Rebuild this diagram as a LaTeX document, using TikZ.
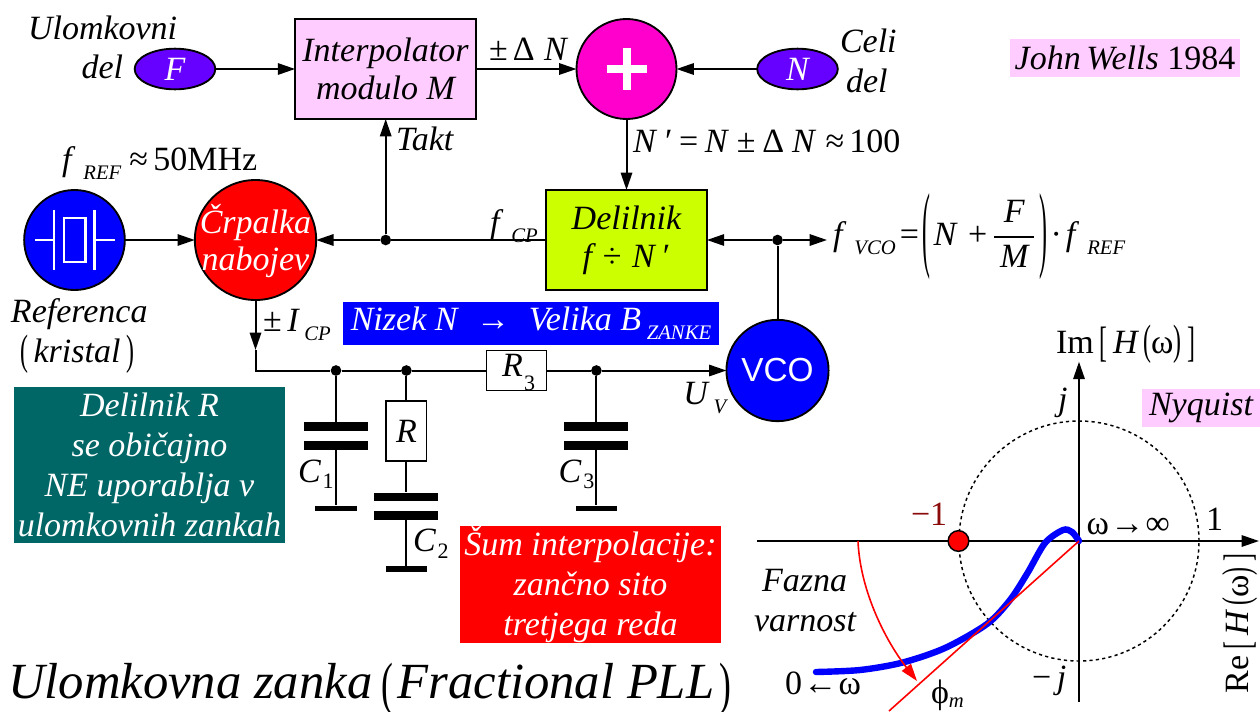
\documentclass[tikz,border=0pt]{standalone}
\usepackage{amsmath}
\usepackage{fontspec}
\usepackage{xcolor}
\usepackage{tikz}
\usetikzlibrary{calc, arrows.meta, positioning, shapes.geometric}
\setmainfont{Liberation Serif}
\newfontfamily\vcofont{Liberation Sans}
\definecolor{pinkbg}{HTML}{FFCCFF}
\definecolor{violetin}{HTML}{6600FF}
\definecolor{sumcol}{HTML}{FF00CC}
\definecolor{divcol}{HTML}{CCFF00}
\definecolor{tealbg}{HTML}{006666}
\definecolor{minusred}{HTML}{8B0A0A}
\newcommand{\sbt}[1]{\,\raisebox{-7pt}{\fontsize{15.5}{15.5}\selectfont\itshape #1}}
\newcommand{\fsb}[1]{\kern9pt\raisebox{-7pt}{\fontsize{15.5}{15.5}\selectfont\itshape #1}}
\newcommand{\sbd}[1]{\kern1.5pt\raisebox{-5pt}{\fontsize{16.5}{16.5}\selectfont\textup{#1}}}
\newcommand{\tallsym}[2]{\ensuremath{\vcenter{\hbox{\scalebox{0.7}[#1]{\textup{#2}}}}}}
\tikzset{
  lbl/.style={inner sep=0pt,outer sep=0pt,font=\fontsize{25.5}{30}\selectfont\itshape},
  block/.style={lbl,draw,line width=1.4pt,align=center},
  oval/.style={lbl,ellipse,draw,line width=1.4pt,align=center},
  tagbox/.style={lbl,align=center},
  jdot/.style={circle,fill=black,inner sep=0pt,minimum size=8pt},
  plate/.style={rectangle,fill=black,inner sep=0pt,minimum width=48pt,minimum height=6.6pt},
  gnd/.style={rectangle,fill=black,inner sep=0pt,minimum width=31pt,minimum height=4.2pt},
  wire/.style={line width=1.5pt},
  conn/.style={wire,-{Triangle[length=13pt,width=8.5pt]}},
  xtalline/.style={white,line width=2pt}
}

\begin{document}
\begin{tikzpicture}[x=0.75pt,y=-0.75pt]
  \useasboundingbox (0,0) rectangle (1260,711);
  % top row
  \node[block, fill=pinkbg, minimum width=135.5pt, minimum height=75pt] (intp) at (385.5,69) {Interpolator\\[-1.5pt]modulo $\mbox{M}$};
  \node[oval, fill=violetin, text=white, minimum width=60.5pt, minimum height=30.5pt] (fin) at (175,69) {F};
  \node[oval, fill=sumcol, minimum width=75pt, minimum height=75pt] (sum) at (626.5,69) {};
  \node[oval, fill=violetin, text=white, minimum width=60.5pt, minimum height=30.5pt] (nin) at (797.5,69) {N};
  \draw[white, line width=6pt] ($(sum)+(-15pt,0)$) -- ($(sum)+(15pt,0)$);
  \draw[white, line width=6pt] ($(sum)+(0,-15.5pt)$) -- ($(sum)+(0,15.5pt)$);
  \draw[conn] (fin) -- (intp);
  \draw[conn] (intp) -- (sum);
  \draw[conn] (nin) -- (sum);
  \node[lbl, anchor=base west] (ulom) at (28,39) {Ulomkovni};
  \node[lbl, anchor=base west] (del1) at (81.5,78) {del};
  \node[lbl, anchor=base west] (celi) at (840,52) {Celi};
  \node[lbl, anchor=base west] (del2) at (846,92) {del};
  \node[lbl, anchor=base west] (dn) at (489,60) {\textup{±\kern4pt Δ}\kern7pt N};
  \node[tagbox, fill=pinkbg, minimum width=172.5pt, minimum height=28.5pt] (john) at (1125,58) {John\,Wells \textup{1984}};
  % middle row
  \node[oval, fill=blue, minimum width=75.5pt, minimum height=75pt] (xtal) at (74.5,240) {};
  \node[oval, fill=red, minimum width=91pt, minimum height=90pt] (pump) at (255.5,240) {};
  \node[lbl, text=white, align=center] (pumpt) at (255.5,241) {Črpalka\\[-2pt]nabojev};
  \node[block, fill=divcol, minimum width=120.5pt, minimum height=75pt] (divd) at (626.5,240) {Delilnik\\[-1.5pt]f\kern8pt\textup{÷}\kern8pt N\kern6pt\textup{′}};
  \node[jdot] (j1) at (385.7,240) {};
  \node[jdot] (j2) at (777.5,240) {};
  \coordinate (fout) at (827,240);
  \draw[conn] (sum) -- (divd);
  \draw[conn] (xtal) -- (pump);
  \draw[wire] (divd) -- (j1);
  \draw[conn] (j1) -- (pump);
  \draw[conn] (j1) -- (j1 |- intp.south);
  \draw[conn] (j2) -- (divd);
  \draw[conn] (j2) -- (fout);
  % crystal symbol
  \draw[xtalline] ($(xtal)+(-39.5,0)$) -- ($(xtal)+(-20.5,0)$);
  \draw[xtalline] ($(xtal)+(-20.5,-30)$) -- ($(xtal)+(-20.5,30)$);
  \draw[xtalline] ($(xtal)+(-10.5,-22)$) rectangle ($(xtal)+(11,22)$);
  \draw[xtalline] ($(xtal)+(20,-30)$) -- ($(xtal)+(20,30)$);
  \draw[xtalline] ($(xtal)+(20,0)$) -- ($(xtal)+(40,0)$);
  \node[lbl, anchor=base west] (ref) at (62,170) {f\fsb{REF}\kern6pt\textup{≈\kern4pt 50MHz}};
  \node[lbl, anchor=base west] (refa) at (11,322.7) {Referenca};
  \node[lbl, anchor=base west] (refb) at (20,362.7) {\tallsym{1.25}{(}\,kristal\,\tallsym{1.25}{)}};
  \node[lbl, anchor=base west] (takt) at (396,150) {Takt};
  \node[lbl, anchor=base west] (nprim) at (633,152.7) {N\kern7pt\textup{′\kern5pt=\kern5pt}N\kern7pt\textup{±\kern5pt Δ}\kern6pt N\kern8pt\textup{≈\kern4pt 100}};
  \node[lbl, anchor=base west] (fcp) at (490,233) {f\fsb{CP}};
  \node[lbl, anchor=base west] (fvco) at (833,245) {f\fsb{VCO}\kern3pt\textup{=}\kern3pt\tallsym{2.8}{(}\kern2pt N\kern9pt\textup{+}\kern4pt$\genfrac{}{}{1.5pt}{0}{\mbox{F}}{\makebox[30pt]{M}}$\kern3pt\tallsym{2.8}{)}\kern2pt\textup{·}\kern3pt f\fsb{REF}};
  % loop filter
  \node[tagbox, fill=blue, text=white, minimum width=282pt, minimum height=32.2pt] (nizek) at (531,323.5) {Nizek N\kern14pt\textup{→}\kern14pt Velika B\sbt{ZANKE}};
  \node[lbl, anchor=base west] (icp) at (263,331) {\textup{±}\,I\sbt{CP}};
  \node[oval, fill=blue, text=white, font=\fontsize{25}{30}\selectfont\vcofont, minimum width=76pt, minimum height=76pt] (vco) at (777.5,370.5) {VCO};
  \draw[wire] (vco) -- (j2);
  \coordinate (cpm) at (255.5,350);
  \coordinate (cor) at (255.5,370.5);
  \node[jdot] (j3) at (336,370.5) {};
  \node[jdot] (j4) at (406.4,370.5) {};
  \node[block, fill=white, line width=1.1pt, minimum width=45pt, minimum height=30pt] (r3) at (516.5,370.5) {};
  \node[lbl, anchor=base west] (r3t) at (502,376.7) {R\kern1pt\raisebox{-10pt}{\fontsize{16.5}{16.5}\selectfont\textup{3}}};
  \node[jdot] (j5) at (596.4,370.5) {};
  \draw[conn] (pump) -- (cpm);
  \draw[wire] (cpm) -- (cor) -- (j3) -- (j4) -- (r3);
  \draw[wire] (r3) -- (j5);
  \draw[conn] (j5) -- (vco);
  \node[lbl, anchor=base west] (uv) at (683.4,404) {U\sbt{V}};
  \node[plate] (c1a) at (336,426.5) {};
  \node[plate] (c1b) at (336,445.5) {};
  \node[gnd] (g1) at (336,508.5) {};
  \draw[wire] (j3) -- (c1a);
  \draw[wire] (c1b) -- (g1);
  \node[lbl, anchor=base west] (c1l) at (298,482) {C\sbd{1}};
  \node[block, fill=white, line width=1.1pt, minimum width=30.5pt, minimum height=45pt] (rs) at (406.4,431) {R};
  \node[plate] (c2a) at (406.4,497) {};
  \node[plate] (c2b) at (406.4,515.5) {};
  \node[gnd] (g2) at (406.4,569) {};
  \draw[wire] (j4) -- (rs);
  \draw[wire] (rs) -- (c2a);
  \draw[wire] (c2b) -- (g2);
  \node[lbl, anchor=base west] (c2l) at (413,551.7) {C\sbd{2}};
  \node[plate] (c3a) at (596.4,426.5) {};
  \node[plate] (c3b) at (596.4,445.5) {};
  \node[gnd] (g3) at (596.4,508.5) {};
  \draw[wire] (j5) -- (c3a);
  \draw[wire] (c3b) -- (g3);
  \node[lbl, anchor=base west] (c3l) at (558.6,482) {C\sbd{3}};
  % notes
  \node[tagbox, fill=tealbg, text=white, minimum width=203.3pt, minimum height=117pt] (noter) at (149.5,465) {Delilnik R\\se običajno\\NE uporablja v\\ulomkovnih zankah};
  \node[tagbox, fill=red, text=white, minimum width=195.8pt, minimum height=87.5pt] (notes) at (590.5,584.5) {Šum interpolacije:\\zančno sito\\tretjega reda};
  \node[lbl, anchor=base west, font=\fontsize{38}{40}\selectfont\itshape] (title) at (8,698) {Ulomkovna zanka\kern7pt\tallsym{1.15}{(}\kern3pt Fractional PLL\kern4pt\tallsym{1.15}{)}};
  % Nyquist plot
  \coordinate (orig) at (1079,541);
  \coordinate (imbot) at (1079,701.7);
  \coordinate (imtop) at (1079,361.7);
  \coordinate (relft) at (757,541);
  \coordinate (retop) at (1259,541);
  \coordinate (phiend) at (889,711);
  \coordinate (arca) at (858,541);
  \coordinate (arcb) at (917,681);
  \draw[line width=1.1pt, dash pattern=on 2.4pt off 2.4pt] (orig) circle [radius=90pt];
  \draw[conn] (relft) -- (retop);
  \draw[conn] (imbot) -- (imtop);
  \draw[blue, line width=4.8pt, line cap=round] plot[smooth] coordinates {(816,672) (860,670) (902,662.7) (945,648) (987,624) (1010,600) (1027.5,573) (1045,543) (1063,530) (1072,532) (1079,541)};
  \draw[red, line width=1.2pt] (orig) -- (phiend);
  \draw[red, line width=1.2pt, -{Triangle[length=13pt,width=8.5pt]}] (arca) .. controls (860,590) and (885,640) .. (arcb);
  \node[circle, draw, line width=1.1pt, fill=red, inner sep=0pt, minimum size=15.5pt] (mone) at (958.5,541) {};
  \node[lbl, anchor=base west, text=minusred] (monel) at (911,525.7) {\textup{−1}};
  \node[lbl, anchor=base west] (iml) at (1056,353) {\textup{Im}\,\tallsym{1.25}{[}\,H\,\tallsym{1.25}{(}\textup{ω}\tallsym{1.25}{)}\,\tallsym{1.25}{]}};
  \node[lbl, anchor=base west, rotate=90] (rel) at (1248,693) {\textup{Re}\,\tallsym{1.15}{[}\,H\,\tallsym{1.15}{(}\textup{ω}\tallsym{1.15}{)}\,\tallsym{1.15}{]}};
  \node[lbl, anchor=base west] (jp) at (1058,410) {j};
  \node[lbl, anchor=base west] (jm) at (1032,688) {\textup{−}\,j};
  \node[lbl, anchor=base west] (one) at (1206,530) {\textup{1}};
  \node[lbl, anchor=base west] (winf) at (1086.6,534) {\textup{ω\kern1pt→\kern1pt∞}};
  \node[lbl, anchor=base west] (wzer) at (785,694) {\textup{0\kern1pt←\kern1pt ω}};
  \node[lbl, anchor=base west] (phim) at (931,703) {\textup{ϕ}\raisebox{-3.5pt}{\fontsize{15.5}{15.5}\selectfont m}};
  \node[lbl, anchor=base west] (faz) at (762,591.7) {Fazna};
  \node[lbl, anchor=base west] (var) at (754,631.7) {varnost};
  \node[tagbox, fill=pinkbg, minimum width=88.5pt, minimum height=28.5pt] (nyq) at (1201,408) {Nyquist};
\end{tikzpicture}
\end{document}
